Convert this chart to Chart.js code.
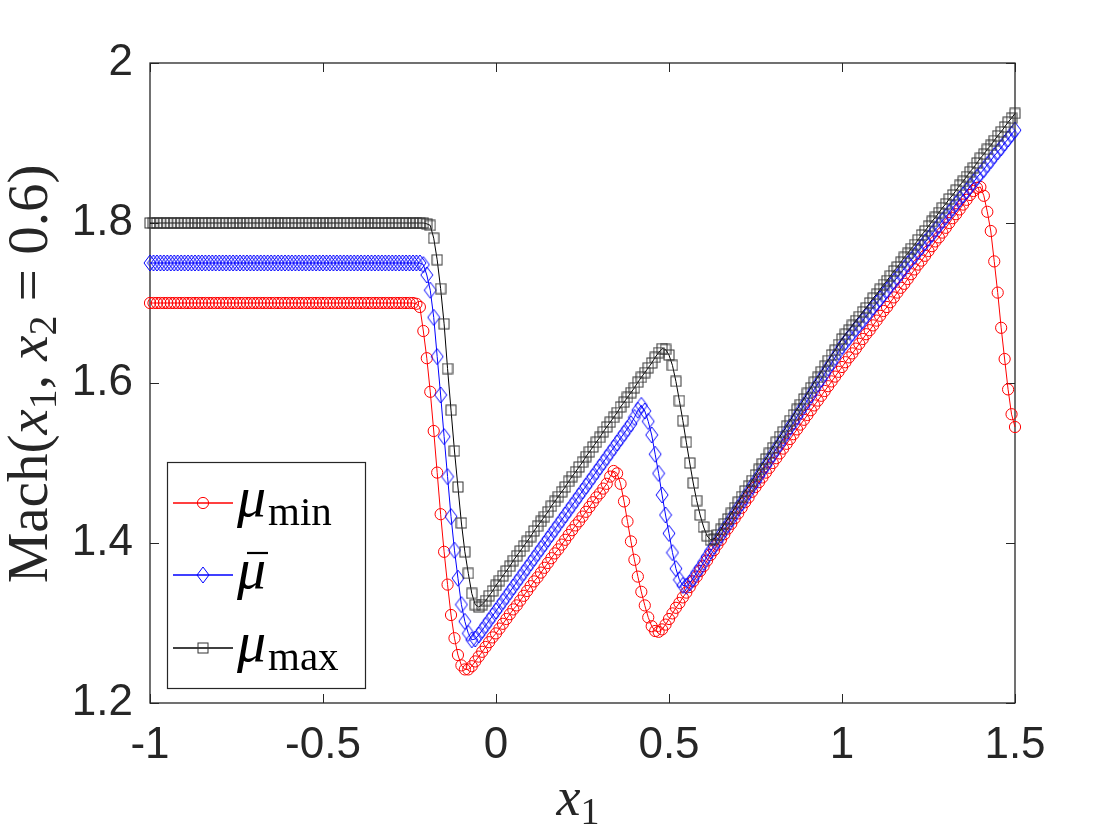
<!DOCTYPE html>
<html><head><meta charset="utf-8">
<script src="https://cdn.jsdelivr.net/npm/chart.js@4.4.1/dist/chart.umd.min.js"></script>
<style>html,body{margin:0;padding:0;background:#fff}canvas{display:block}</style>
</head><body>
<canvas id="c" width="1120" height="840" style="width:1120px;height:840px"></canvas>
<script>
const xValues = [
-1,-0.99,-0.98,-0.97,-0.96,-0.95,-0.94,-0.93,-0.92,-0.91,
-0.9,-0.89,-0.88,-0.87,-0.86,-0.85,-0.84,-0.83,-0.82,-0.81,
-0.8,-0.79,-0.78,-0.77,-0.76,-0.75,-0.74,-0.73,-0.72,-0.71,
-0.7,-0.69,-0.68,-0.67,-0.66,-0.65,-0.64,-0.63,-0.62,-0.61,
-0.6,-0.59,-0.58,-0.57,-0.56,-0.55,-0.54,-0.53,-0.52,-0.51,
-0.5,-0.49,-0.48,-0.47,-0.46,-0.45,-0.44,-0.43,-0.42,-0.41,
-0.4,-0.39,-0.38,-0.37,-0.36,-0.35,-0.34,-0.33,-0.32,-0.31,
-0.3,-0.29,-0.28,-0.27,-0.26,-0.25,-0.24,-0.23,-0.22,-0.21,
-0.2,-0.19,-0.18,-0.17,-0.16,-0.15,-0.14,-0.13,-0.12,-0.11,
-0.1,-0.09,-0.08,-0.07,-0.06,-0.05,-0.04,-0.03,-0.02,-0.01,
0,0.01,0.02,0.03,0.04,0.05,0.06,0.07,0.08,0.09,
0.1,0.11,0.12,0.13,0.14,0.15,0.16,0.17,0.18,0.19,
0.2,0.21,0.22,0.23,0.24,0.25,0.26,0.27,0.28,0.29,
0.3,0.31,0.32,0.33,0.34,0.35,0.36,0.37,0.38,0.39,
0.4,0.41,0.42,0.43,0.44,0.45,0.46,0.47,0.48,0.49,
0.5,0.51,0.52,0.53,0.54,0.55,0.56,0.57,0.58,0.59,
0.6,0.61,0.62,0.63,0.64,0.65,0.66,0.67,0.68,0.69,
0.7,0.71,0.72,0.73,0.74,0.75,0.76,0.77,0.78,0.79,
0.8,0.81,0.82,0.83,0.84,0.85,0.86,0.87,0.88,0.89,
0.9,0.91,0.92,0.93,0.94,0.95,0.96,0.97,0.98,0.99,
1,1.01,1.02,1.03,1.04,1.05,1.06,1.07,1.08,1.09,
1.1,1.11,1.12,1.13,1.14,1.15,1.16,1.17,1.18,1.19,
1.2,1.21,1.22,1.23,1.24,1.25,1.26,1.27,1.28,1.29,
1.3,1.31,1.32,1.33,1.34,1.35,1.36,1.37,1.38,1.39,
1.4,1.41,1.42,1.43,1.44,1.45,1.46,1.47,1.48,1.49,
1.5];

const muMin = [
1.7,1.7,1.7,1.7,1.7,1.7,1.7,1.7,1.7,1.7,
1.7,1.7,1.7,1.7,1.7,1.7,1.7,1.7,1.7,1.7,
1.7,1.7,1.7,1.7,1.7,1.7,1.7,1.7,1.7,1.7,
1.7,1.7,1.7,1.7,1.7,1.7,1.7,1.7,1.7,1.7,
1.7,1.7,1.7,1.7,1.7,1.7,1.7,1.7,1.7,1.7,
1.7,1.7,1.7,1.7,1.7,1.7,1.7,1.7,1.7,1.7,
1.7,1.7,1.7,1.7,1.7,1.7,1.7,1.7,1.7,1.7,
1.7,1.7,1.7,1.7,1.7,1.7,1.7,1.699,1.695,1.665,
1.631,1.589,1.540,1.488,1.436,1.389,1.348,1.310,1.281,1.260,
1.247,1.242,1.242,1.246,1.252,1.258,1.264,1.270,1.276,1.282,
1.287,1.293,1.299,1.305,1.311,1.317,1.322,1.328,1.334,1.340,
1.346,1.352,1.357,1.363,1.369,1.375,1.381,1.387,1.392,1.398,
1.404,1.410,1.416,1.422,1.427,1.433,1.439,1.445,1.451,1.457,
1.462,1.468,1.474,1.483,1.490,1.487,1.474,1.452,1.427,1.402,
1.379,1.358,1.339,1.322,1.307,1.296,1.290,1.289,1.292,1.298,
1.305,1.312,1.319,1.325,1.332,1.338,1.345,1.352,1.358,1.365,
1.371,1.378,1.385,1.391,1.398,1.404,1.411,1.418,1.424,1.431,
1.437,1.444,1.451,1.457,1.464,1.470,1.476,1.482,1.488,1.494,
1.500,1.506,1.512,1.518,1.524,1.530,1.536,1.542,1.548,1.554,
1.560,1.566,1.572,1.578,1.584,1.590,1.596,1.602,1.608,1.614,
1.620,1.626,1.632,1.637,1.643,1.649,1.655,1.661,1.666,1.672,
1.678,1.684,1.690,1.695,1.701,1.707,1.713,1.719,1.724,1.730,
1.736,1.742,1.748,1.753,1.759,1.765,1.771,1.777,1.782,1.788,
1.794,1.800,1.806,1.811,1.817,1.823,1.829,1.835,1.840,1.844,
1.845,1.834,1.814,1.790,1.752,1.713,1.669,1.630,1.592,1.561,
1.545];

const muBar = [
1.75,1.75,1.75,1.75,1.75,1.75,1.75,1.75,1.75,1.75,
1.75,1.75,1.75,1.75,1.75,1.75,1.75,1.75,1.75,1.75,
1.75,1.75,1.75,1.75,1.75,1.75,1.75,1.75,1.75,1.75,
1.75,1.75,1.75,1.75,1.75,1.75,1.75,1.75,1.75,1.75,
1.75,1.75,1.75,1.75,1.75,1.75,1.75,1.75,1.75,1.75,
1.75,1.75,1.75,1.75,1.75,1.75,1.75,1.75,1.75,1.75,
1.75,1.75,1.75,1.75,1.75,1.75,1.75,1.75,1.75,1.75,
1.75,1.75,1.75,1.75,1.75,1.75,1.75,1.75,1.75,1.748,
1.735,1.716,1.682,1.633,1.585,1.533,1.483,1.433,1.391,1.356,
1.323,1.302,1.287,1.279,1.280,1.285,1.291,1.297,1.303,1.309,
1.315,1.321,1.327,1.333,1.339,1.345,1.351,1.357,1.363,1.369,
1.375,1.381,1.387,1.393,1.399,1.405,1.411,1.417,1.423,1.429,
1.435,1.441,1.447,1.453,1.459,1.465,1.471,1.477,1.483,1.489,
1.495,1.501,1.507,1.513,1.519,1.525,1.531,1.537,1.543,1.549,
1.557,1.566,1.572,1.565,1.552,1.535,1.511,1.487,1.460,1.435,
1.412,1.388,1.368,1.354,1.347,1.346,1.350,1.356,1.363,1.369,
1.376,1.383,1.390,1.396,1.403,1.410,1.417,1.423,1.430,1.437,
1.444,1.450,1.457,1.464,1.471,1.477,1.484,1.491,1.497,1.504,
1.511,1.518,1.524,1.531,1.538,1.545,1.551,1.558,1.565,1.572,
1.578,1.585,1.592,1.599,1.605,1.612,1.619,1.625,1.632,1.639,
1.646,1.651,1.657,1.662,1.668,1.673,1.678,1.684,1.689,1.695,
1.700,1.705,1.711,1.716,1.722,1.727,1.732,1.738,1.743,1.749,
1.754,1.759,1.765,1.770,1.776,1.781,1.786,1.792,1.797,1.803,
1.808,1.813,1.819,1.824,1.830,1.835,1.840,1.846,1.851,1.857,
1.862,1.867,1.873,1.878,1.884,1.889,1.894,1.900,1.905,1.911,
1.916];

const muMax = [
1.8,1.8,1.8,1.8,1.8,1.8,1.8,1.8,1.8,1.8,
1.8,1.8,1.8,1.8,1.8,1.8,1.8,1.8,1.8,1.8,
1.8,1.8,1.8,1.8,1.8,1.8,1.8,1.8,1.8,1.8,
1.8,1.8,1.8,1.8,1.8,1.8,1.8,1.8,1.8,1.8,
1.8,1.8,1.8,1.8,1.8,1.8,1.8,1.8,1.8,1.8,
1.8,1.8,1.8,1.8,1.8,1.8,1.8,1.8,1.8,1.8,
1.8,1.8,1.8,1.8,1.8,1.8,1.8,1.8,1.8,1.8,
1.8,1.8,1.8,1.8,1.8,1.8,1.8,1.8,1.8,1.8,
1.799,1.797,1.781,1.754,1.718,1.674,1.618,1.566,1.515,1.470,
1.425,1.389,1.362,1.337,1.323,1.320,1.323,1.328,1.334,1.340,
1.347,1.353,1.359,1.365,1.371,1.378,1.384,1.390,1.396,1.402,
1.408,1.415,1.421,1.427,1.433,1.439,1.446,1.452,1.458,1.464,
1.470,1.477,1.483,1.489,1.495,1.501,1.508,1.514,1.520,1.526,
1.532,1.539,1.545,1.551,1.557,1.563,1.570,1.576,1.582,1.588,
1.594,1.601,1.607,1.613,1.619,1.625,1.632,1.638,1.643,1.642,
1.635,1.622,1.602,1.578,1.553,1.526,1.500,1.475,1.453,1.435,
1.420,1.409,1.404,1.405,1.410,1.417,1.424,1.430,1.437,1.444,
1.451,1.458,1.465,1.471,1.478,1.485,1.492,1.499,1.505,1.512,
1.519,1.526,1.533,1.539,1.546,1.553,1.560,1.567,1.573,1.580,
1.587,1.594,1.601,1.607,1.614,1.621,1.628,1.635,1.641,1.648,
1.655,1.661,1.666,1.672,1.678,1.683,1.689,1.694,1.700,1.706,
1.711,1.717,1.723,1.728,1.734,1.740,1.745,1.751,1.757,1.762,
1.768,1.773,1.779,1.785,1.790,1.796,1.802,1.807,1.813,1.819,
1.824,1.830,1.835,1.841,1.847,1.852,1.858,1.864,1.869,1.875,
1.881,1.886,1.892,1.897,1.903,1.909,1.914,1.920,1.926,1.931,
1.937];

const xTickValues = [-1, -0.5, 0, 0.5, 1, 1.5];
const xTickLabels = ['-1', '-0.5', '0', '0.5', '1', '1.5'];
const yTickValues = [1.2, 1.4, 1.6, 1.8, 2];
const yTickLabels = ['1.2', '1.4', '1.6', '1.8', '2'];
const seriesSub = ['min', '', 'max'];
const seriesColors = ['#ff0000', '#0000ff', '#000000'];

const TXT = '#262626';
const SERIF = '"Liberation Serif", "Times New Roman", serif';
const SANS = '"Liberation Sans", Arial, Helvetica, sans-serif';

function diamondImg(w, h, color) {
  const c = document.createElement('canvas');
  c.width = w + 2; c.height = h + 2;
  const g = c.getContext('2d');
  g.strokeStyle = color; g.lineWidth = 1;
  g.beginPath();
  g.moveTo(c.width / 2, 1); g.lineTo(c.width - 1, c.height / 2);
  g.lineTo(c.width / 2, c.height - 1); g.lineTo(1, c.height / 2);
  g.closePath(); g.stroke();
  return c;
}
const diamond = diamondImg(12, 16, '#0000ff');

function squareImg(s, color) {
  const c = document.createElement('canvas');
  c.width = s + 2; c.height = s + 2;
  const g = c.getContext('2d');
  g.strokeStyle = color; g.lineWidth = 1;
  g.strokeRect(1, 1, s, s);
  return c;
}
const square = squareImg(10, '#333333');

function toPts(ys) { return xValues.map((x, i) => ({ x: x, y: ys[i] })); }

function drawSegments(ctx, segs, cx, baseY) {
  let total = 0;
  segs.forEach(s => { ctx.font = s.f; s.w = ctx.measureText(s.t).width; total += s.w; });
  let x = cx - total / 2;
  segs.forEach(s => { ctx.font = s.f; ctx.fillText(s.t, x, baseY + (s.dy || 0)); x += s.w; });
}

const decor = {
  id: 'decor',
  beforeDatasetsDraw(chart) {
    const { ctx, chartArea: a, scales: { x, y } } = chart;
    ctx.save();
    ctx.strokeStyle = TXT; ctx.lineWidth = 1;
    ctx.beginPath();
    xTickValues.forEach(v => {
      const p = Math.round(x.getPixelForValue(v)) + 0.5;
      ctx.moveTo(p, a.bottom); ctx.lineTo(p, a.bottom - 9);
      ctx.moveTo(p, a.top); ctx.lineTo(p, a.top + 9);
    });
    yTickValues.forEach(v => {
      const p = Math.round(y.getPixelForValue(v)) + 0.5;
      ctx.moveTo(a.left, p); ctx.lineTo(a.left + 9, p);
      ctx.moveTo(a.right, p); ctx.lineTo(a.right - 9, p);
    });
    ctx.stroke();
    ctx.lineWidth = 1.3;
    ctx.strokeRect(a.left, a.top, a.right - a.left, a.bottom - a.top);
    ctx.restore();
  },
  afterDraw(chart) {
    const { ctx } = chart;
    ctx.save();
    ctx.fillStyle = TXT;
    ctx.textBaseline = 'alphabetic';
    ctx.textAlign = 'left';
    // y-axis title
    ctx.save();
    ctx.translate(47, 374);
    ctx.rotate(-Math.PI / 2);
    const R = '57px ' + SERIF, I = 'italic 57px ' + SERIF, S = '40px ' + SERIF;
    drawSegments(ctx, [
      { t: 'Mach(', f: R }, { t: 'x', f: I }, { t: '1', f: S, dy: 9 },
      { t: ', ', f: R }, { t: 'x', f: I }, { t: '2', f: S, dy: 9 },
      { t: ' = ', f: R }, { t: '0.6)', f: R }
    ], 0, 0);
    ctx.restore();
    // x-axis title
    drawSegments(ctx, [
      { t: 'x', f: 'italic 54px ' + SERIF }, { t: '1', f: '38px ' + SERIF, dy: 9 }
    ], 578, 815);
    // legend
    const box = { l: 167, t: 462, r: 365, b: 688 };
    ctx.fillStyle = '#ffffff';
    ctx.fillRect(box.l, box.t, box.r - box.l, box.b - box.t);
    ctx.strokeStyle = TXT; ctx.lineWidth = 1.2;
    ctx.strokeRect(box.l + 0.5, box.t + 0.5, box.r - box.l, box.b - box.t);
    const rows = [503, 575, 648];
    rows.forEach((ry, k) => {
      const col = seriesColors[k];
      ctx.strokeStyle = col; ctx.lineWidth = 1.3;
      ctx.beginPath(); ctx.moveTo(173, ry); ctx.lineTo(233, ry); ctx.stroke();
      ctx.lineWidth = 1;
      if (k === 0) {
        ctx.beginPath(); ctx.arc(203, ry, 5.6, 0, Math.PI * 2); ctx.stroke();
      } else if (k === 1) {
        ctx.drawImage(diamond, 203 - diamond.width / 2, ry - diamond.height / 2);
      } else {
        ctx.drawImage(square, 203 - square.width / 2, ry - square.height / 2);
      }
      ctx.fillStyle = '#000000';
      ctx.font = 'italic 58px ' + SERIF;
      ctx.fillText('μ', 237, ry + 13);
      if (seriesSub[k]) {
        ctx.font = '41px ' + SERIF;
        ctx.fillText(seriesSub[k], 268, ry + 22);
      } else {
        ctx.strokeStyle = '#000000'; ctx.lineWidth = 2.2;
        ctx.beginPath(); ctx.moveTo(247, ry - 22); ctx.lineTo(268, ry - 22); ctx.stroke();
      }
    });
    ctx.restore();
  }
};

const common = { borderWidth: 1, tension: 0, clip: false, pointBorderWidth: 1,
  pointBackgroundColor: 'rgba(0,0,0,0)', pointHoverRadius: 0 };

new Chart(document.getElementById('c'), {
  type: 'line',
  data: {
    datasets: [
      Object.assign({ label: 'μmin', data: toPts(muMin), borderColor: '#ff0000',
        pointBorderColor: '#ff0000', pointStyle: 'circle', pointRadius: 5.6, order: 2 }, common),
      Object.assign({ label: 'μ̄', data: toPts(muBar), borderColor: '#0000ff',
        pointBorderColor: '#0000ff', pointStyle: diamond, pointRadius: 6, order: 1 }, common),
      Object.assign({ label: 'μmax', data: toPts(muMax), borderColor: '#000000',
        pointBorderColor: '#333333', pointStyle: square, pointRadius: 6, order: 0 }, common)
    ]
  },
  options: {
    responsive: false,
    animation: false,
    events: [],
    layout: { padding: { left: 0, right: 105, top: 63, bottom: 0 } },
    scales: {
      x: {
        type: 'linear', min: -1, max: 1.5,
        grid: { display: false, drawTicks: false }, border: { display: false },
        afterBuildTicks: s => { s.ticks = xTickValues.map(v => ({ value: v })); },
        afterFit: s => { s.height = 137; },
        ticks: { autoSkip: false, maxRotation: 0, padding: 16, color: TXT,
          font: { family: SANS, size: 44 },
          callback: (v, i) => xTickLabels[i] }
      },
      y: {
        type: 'linear', min: 1.2, max: 2,
        grid: { display: false, drawTicks: false }, border: { display: false },
        afterBuildTicks: s => { s.ticks = yTickValues.map(v => ({ value: v })); },
        afterFit: s => { s.width = 150; },
        ticks: { autoSkip: false, padding: 17, color: TXT,
          font: { family: SANS, size: 44 },
          callback: (v, i) => yTickLabels[i] }
      }
    },
    plugins: { legend: { display: false }, tooltip: { enabled: false } }
  },
  plugins: [decor]
});
</script>
</body></html>
